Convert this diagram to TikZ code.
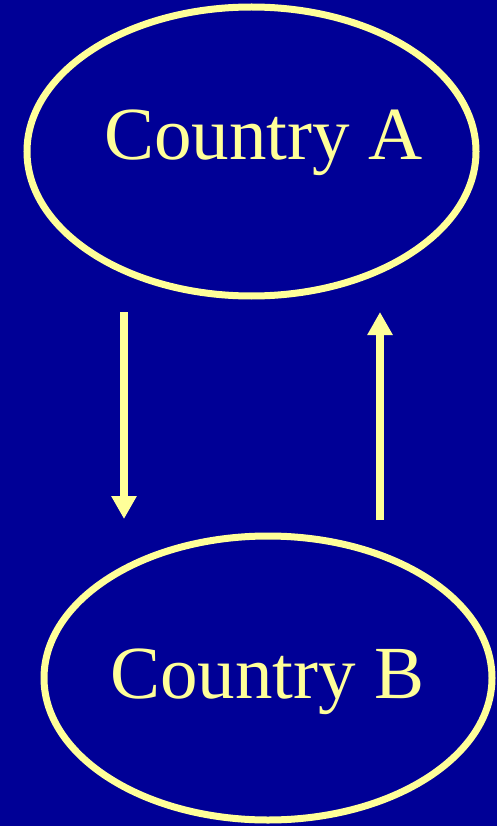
\documentclass[tikz,border=0pt]{standalone}
\usepackage{fontspec}
\setmainfont{Liberation Serif}
\usetikzlibrary{shapes.geometric,arrows.meta}
\definecolor{bgblue}{RGB}{0,0,150}
\definecolor{ltyellow}{RGB}{255,255,153}
\tikzset{
  country/.style={draw=ltyellow, line width=7pt, ellipse, inner sep=0pt,
    minimum width=449pt, minimum height=289pt},
  label text/.style={text=ltyellow, inner sep=0pt, anchor=base,
    font=\fontsize{75pt}{80pt}\selectfont},
  flow/.style={draw=ltyellow, line width=8pt,
    -{Triangle[length=23pt,width=24pt]}}
}
\begin{document}
\begin{tikzpicture}[x=1pt,y=-1pt]
  \fill[bgblue] (0,0) rectangle (497,826);
  \useasboundingbox (0,0) rectangle (497,826);
  \node[country] (A) at (251.5,151.5) {};
  \node[country, minimum width=448pt, minimum height=284pt] (B) at (268,678) {};
  \node[label text] (At) at (263.5,160) {Country A};
  \node[label text] (Bt) at (267.5,698) {Country B};
  \coordinate (d1) at (124,312);
  \coordinate (d2) at (124,519);
  \coordinate (u1) at (380,520);
  \coordinate (u2) at (380,312);
  \draw[flow] (d1) -- (d2);
  \draw[flow] (u1) -- (u2);
\end{tikzpicture}
\end{document}
